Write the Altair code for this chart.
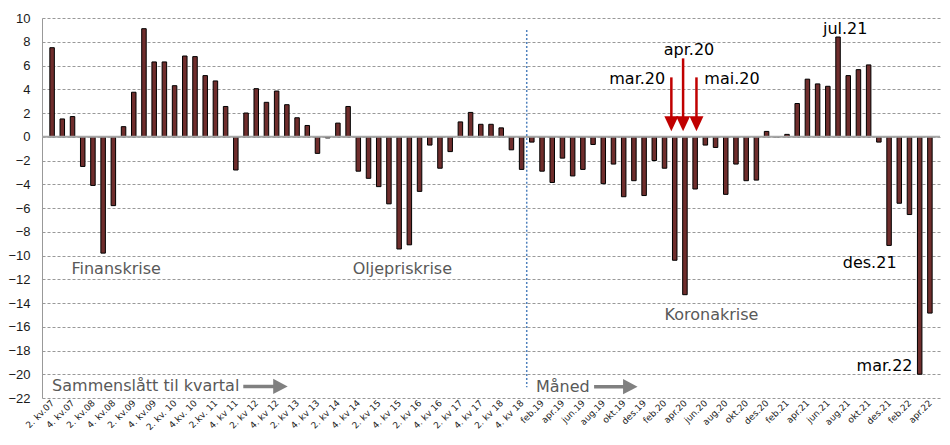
import json
import altair as alt
import pandas as pd

categories = [
    "2. kv.07", "3. kv.07", "4. kv.07",
    "1. kv.08", "2. kv.08", "3. kv.08", "4. kv.08",
    "1. kv.09", "2. kv.09", "3. kv.09", "4. kv.09",
    "1. kv. 10", "2. kv. 10", "3. kv. 10", "4.kv. 10",
    "1. kv. 11", "2.kv. 11", "3. kv 11", "4. kv 11",
    "1. kv 12", "2. kv 12", "3. kv 12", "4. kv 12",
    "1. kv 13", "2. kv 13", "3. kv 13", "4. kv 13",
    "1. kv 14", "2. kv 14", "3. kv 14", "4. kv 14",
    "1. kv 15", "2. kv 15", "3. kv 15", "4. kv 15",
    "1. kv 16", "2. kv 16", "3. kv 16", "4. kv 16",
    "1. kv 17", "2. kv 17", "3. kv 17", "4. kv 17",
    "1. kv 18", "2. kv 18", "3. kv 18", "4. kv 18",
    "jan.19", "feb.19", "mar.19", "apr.19", "mai.19", "jun.19",
    "jul.19", "aug.19", "sep.19", "okt.19", "nov.19", "des.19",
    "jan.20", "feb.20", "mar.20", "apr.20", "mai.20", "jun.20",
    "jul.20", "aug.20", "sep.20", "okt.20", "nov.20", "des.20",
    "jan.21", "feb.21", "mar.21", "apr.21", "mai.21", "jun.21",
    "jul.21", "aug.21", "sep.21", "okt.21", "nov.21", "des.21",
    "jan.22", "feb.22", "mar.22", "apr.22",
]

values = [
    7.5, 1.5, 1.7, -2.5, -4.1, -9.8, -5.8, 0.85, 3.75, 9.1,
    6.3, 6.3, 4.3, 6.8, 6.75, 5.15, 4.7, 2.55, -2.8, 2.0,
    4.05, 2.9, 3.85, 2.7, 1.6, 0.95, -1.4, -0.1, 1.15, 2.55,
    -2.9, -3.5, -4.2, -5.65, -9.45, -9.1, -4.6, -0.7, -2.65, -1.25,
    1.25, 2.05, 1.05, 1.05, 0.75, -1.1, -2.75,
    -0.45, -2.9, -3.85, -1.8, -3.3, -2.75, -0.65, -3.95, -2.3, -5.05,
    -3.7, -4.95, -2.0, -2.65, -10.4, -13.3, -4.4, -0.7, -0.9, -4.85,
    -2.3, -3.7, -3.65, 0.45, 0.0, 0.2, 2.8, 4.85, 4.45, 4.25,
    8.4, 5.15, 5.65, 6.05, -0.45, -9.15, -5.6, -6.55, -20.0, -14.85,
]

y_ticks = list(range(-22, 11, 2))
x_ticks = list(range(0, len(categories), 2))

gray_notes_text = ["Finanskrise", "Oljepriskrise", "Koronakrise", "Sammenslått til kvartal", "Måned"]
gray_notes_x = [1.9, 29.45, 60.0, 0.0, 47.4]
gray_notes_y = [-11.1, -11.1, -15.0, -21.0, -21.1]

black_text = ["mar.20", "apr.20", "mai.20", "jul.21", "des.21", "mar.22"]
black_x = [60.07, 62.4, 63.9, 77.7, 80.1, 84.3]
black_y = [4.87, 7.3, 4.87, 9.1, -10.6, -19.3]
black_align = ["right", "center", "left", "center", "center", "right"]

red_x = [60.67, 61.82, 63.13]
red_top = [5.0, 6.6, 5.0]
red_shaft_end = [1.5, 1.5, 1.5]
red_head_y = [1.1, 1.1, 1.1]

gray_arrow_x = [18.73, 53.1]
gray_arrow_x2 = [22.0, 56.3]
gray_arrow_head = [22.37, 56.65]
gray_arrow_y = [-21.03, -21.05]

divider_x = [46.5]
divider_y = [9.0]
divider_y2 = [-21.1]

x_scale = alt.Scale(domain=[-0.5, len(categories) - 0.5], nice=False, zero=False)
y_scale = alt.Scale(domain=[-22, 10], nice=False, zero=False)

label_expr = json.dumps(categories) + "[datum.value]"

x_axis = alt.Axis(
    values=x_ticks, labelExpr=label_expr, labelAngle=-45, labelAlign="right",
    labelBaseline="middle", grid=False, domain=False, ticks=False, title=None,
    labelFont="DejaVu Sans", labelFontSize=9, labelColor="#222222",
    labelPadding=3, labelOverlap=False, labelFlush=False, labelBound=False)

y_axis = alt.Axis(
    values=y_ticks, grid=True, gridDash=[3, 2], gridColor="#999999", gridWidth=1,
    domainColor="#999999", domainWidth=1, ticks=False, labelPadding=12, title=None,
    labelOverlap=False, labelFlush=False,
    labelFont="Liberation Sans", labelFontSize=13, labelColor="#1a1a1a")


def X(field):
    return alt.X(field, scale=x_scale, axis=x_axis)


def Y(field):
    return alt.Y(field, scale=y_scale, axis=y_axis)


df = pd.DataFrame({"idx": list(range(len(categories))), "cat": categories, "value": values})

bars = alt.Chart(df).mark_bar(size=4.5, fill="#6f2d2c", stroke="#000000", strokeWidth=1).encode(
    x=X("idx:Q"), y=Y("value:Q"))

zero = alt.Chart(pd.DataFrame({"y": [0]})).mark_rule(color="#a6a6a6", strokeWidth=2).encode(
    y=Y("y:Q"))

divider = alt.Chart(pd.DataFrame({"x": divider_x, "y": divider_y, "y2": divider_y2})).mark_rule(
    color="#4f81bd", strokeWidth=1.5, strokeDash=[2, 2]).encode(
    x=X("x:Q"), y=Y("y:Q"), y2="y2:Q")

gray_df = pd.DataFrame({"t": gray_notes_text, "x": gray_notes_x, "y": gray_notes_y})
gray_text = alt.Chart(gray_df).mark_text(
    align="left", baseline="middle", font="DejaVu Sans", fontSize=16, color="#595959").encode(
    x=X("x:Q"), y=Y("y:Q"), text="t:N")

black_df = pd.DataFrame({"t": black_text, "x": black_x, "y": black_y, "a": black_align})
black_layers = []
for a in ["left", "center", "right"]:
    black_layers.append(
        alt.Chart(black_df[black_df["a"] == a]).mark_text(
            align=a, baseline="middle", font="DejaVu Sans", fontSize=16, color="#000000").encode(
            x=X("x:Q"), y=Y("y:Q"), text="t:N"))

red_df = pd.DataFrame({"x": red_x, "y": red_top, "y2": red_shaft_end, "h": red_head_y})
red_shaft = alt.Chart(red_df).mark_rule(color="#c00000", strokeWidth=2.5).encode(
    x=X("x:Q"), y=Y("y:Q"), y2="y2:Q")
red_head = alt.Chart(red_df).mark_point(
    shape="M-1,-1.07L1,-1.07L0,1.07Z", filled=True, size=196, color="#c00000", opacity=1,
    strokeWidth=0).encode(x=X("x:Q"), y=Y("h:Q"))

garrow_df = pd.DataFrame({"x": gray_arrow_x, "x2": gray_arrow_x2, "hx": gray_arrow_head, "y": gray_arrow_y})
gray_shaft = alt.Chart(garrow_df).mark_rule(color="#808080", strokeWidth=3.5).encode(
    x=X("x:Q"), x2="x2:Q", y=Y("y:Q"))
gray_head = alt.Chart(garrow_df).mark_point(
    shape="M-1,-1.05L1,0L-1,1.05Z", filled=True, size=210, color="#808080", opacity=1,
    strokeWidth=0).encode(x=X("hx:Q"), y=Y("y:Q"))

chart = alt.layer(
    bars, zero, divider, gray_text, *black_layers, red_shaft, red_head, gray_shaft, gray_head
).properties(
    width=898, height=380,
    padding={"left": 34, "top": 10, "right": 2, "bottom": 35},
    autosize=alt.AutoSizeParams(type="none"),
    background="white",
).configure_view(stroke=None)

chart.save("out.html", embed_options={"renderer": "svg", "actions": False})
